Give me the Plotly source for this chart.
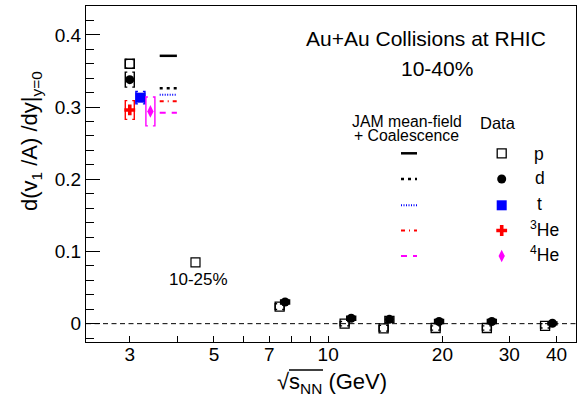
import math
import plotly.graph_objects as go

# ---------------- data ----------------
p_energy = [3.0, 7.45, 11.05, 14.0, 19.2, 26.2, 37.3]
p_slope = [0.360, 0.0236, 0.0, -0.0064, -0.006, -0.006, -0.003]
p_sys = [0.006, 0.004, 0.003, 0.004, 0.003, 0.003, 0.003]

d_energy = [3.0, 7.7, 11.5, 14.5, 19.6, 27.0, 39.0]
d_slope = [0.338, 0.030, 0.0075, 0.006, 0.003, 0.003, 0.0005]
d_sys = [0.0104, 0.003, 0.003, 0.004, 0.003, 0.003, 0.002]

t_energy = [3.2]
t_slope = [0.313]
t_sys = [0.0085]

he3_energy = [3.0]
he3_slope = [0.296]
he3_sys = [0.013]

he4_energy = [3.4]
he4_slope = [0.294]
he4_sys = [0.020]

p1025_energy = [4.47]
p1025_slope = [0.085]

jam_energy = 3.79
jam_p = 0.371
jam_d = 0.326
jam_t = 0.317
jam_he3 = 0.308
jam_he4 = 0.292

x_ticks = [3, 5, 7, 10, 20, 30, 40]
x_minor = [4, 6, 8, 9]

# ---------------- layout geometry ----------------
W, H = 583, 397
ML, MR, MT, MB = 86, 7, 6, 55
XR = [math.log10(2.3), math.log10(45.0)]
YR = [-0.0254, 0.44]
plot_w = W - ML - MR
plot_h = H - MT - MB
dec_per_px = (XR[1] - XR[0]) / plot_w

FONT = "Liberation Sans, Arial, Helvetica, sans-serif"


def brackets(xs, ys, es, half_px=4.5, tick_px=2.0):
    bx, by = [], []
    f = 10 ** (half_px * dec_per_px)
    t = 10 ** (tick_px * dec_per_px)
    for x, y, e in zip(xs, ys, es):
        xl = x / f
        xr = x * f
        bx += [xl * t, xl, xl, xl * t, None, xr / t, xr, xr, xr / t, None]
        by += [y + e, y + e, y - e, y - e, None, y + e, y + e, y - e, y - e, None]
    return bx, by


def px_x(px):
    return (px - ML) / plot_w


def px_y(py):
    return (H - MB - py) / plot_h


fig = go.Figure()

# JAM model segments
seg = 10 ** (8.6 * dec_per_px)
jam_styles = [
    (jam_p, "black", "solid", 2.5),
    (jam_d, "black", "3px,4px", 2.5),
    (jam_t, "#0000ff", "1px,1.5px", 2),
    (jam_he3, "#ff0000", "4px,4px,1px,4px", 2),
    (jam_he4, "#ff00ff", "6px,6px", 2),
]
for val, col, dash, w in jam_styles:
    fig.add_trace(go.Scatter(x=[jam_energy / seg, jam_energy * seg], y=[val, val],
                             mode="lines", line=dict(color=col, dash=dash, width=w),
                             showlegend=False, hoverinfo="skip"))

# data series with systematic brackets
series = [
    (p_energy, p_slope, p_sys, "black", dict(symbol="square-open", size=9,
                                              color="black", line=dict(width=1.3, color="black"))),
    (d_energy, d_slope, d_sys, "black", dict(symbol="circle", size=9, color="black")),
    (t_energy, t_slope, t_sys, "#0000ff", dict(symbol="square", size=10, color="#0000ff")),
    (he3_energy, he3_slope, he3_sys, "#ff0000", dict(symbol="cross", size=9, color="#ff0000")),
    (he4_energy, he4_slope, he4_sys, "#ff00ff", dict(symbol="diamond-tall", size=9, color="#ff00ff")),
]
for xs, ys, es, col, mk in series:
    bx, by = brackets(xs, ys, es)
    fig.add_trace(go.Scatter(x=bx, y=by, mode="lines", line=dict(color=col, width=1.4),
                             showlegend=False, hoverinfo="skip"))
    fig.add_trace(go.Scatter(x=xs, y=ys, mode="markers", marker=mk, showlegend=False))

fig.add_trace(go.Scatter(x=p1025_energy, y=p1025_slope, mode="markers",
                         marker=dict(symbol="square-open", size=9, color="black",
                                     line=dict(width=1.2, color="black")),
                         showlegend=False))

# ---------------- legend (pixel overlay axes) ----------------
leg_rows = [153.3, 179.0, 205.3, 230.5, 256.0]
for (val, col, dash, w), yy in zip(jam_styles, leg_rows):
    fig.add_trace(go.Scatter(x=[401, 417], y=[yy, yy], xaxis="x2", yaxis="y2", mode="lines",
                             line=dict(color=col, dash=dash, width=w), showlegend=False,
                             hoverinfo="skip"))
for (xs, ys, es, col, mk), yy in zip(series, leg_rows):
    fig.add_trace(go.Scatter(x=[501.7], y=[yy], xaxis="x2", yaxis="y2", mode="markers",
                             marker=dict(mk), showlegend=False, hoverinfo="skip"))

ann = []


def txt(text, x, y, size, xanchor="center"):
    ann.append(dict(text=text, x=px_x(x), y=px_y(y), xref="paper", yref="paper",
                    showarrow=False, xanchor=xanchor, yanchor="middle",
                    font=dict(family=FONT, size=size, color="black")))


txt("Au+Au Collisions at RHIC", 425.5, 39, 21)
txt("10-40%", 436.7, 68.3, 21)
txt("JAM mean-field", 406.7, 121.8, 15.8)
txt("+ Coalescence", 406.0, 135.0, 15.8)
txt("Data", 498.0, 122.5, 16.5)
txt("p", 539, 153.7, 17.5)
txt("d", 540, 178.0, 17.5)
txt("t", 539, 204.0, 17.5)
txt("<sup>3</sup>He", 527.5, 228.5, 17.5, xanchor="left")
txt("<sup>4</sup>He", 527.5, 254.3, 17.5, xanchor="left")

ann.append(dict(text="10-25%", x=math.log10(4.54), y=0.0605, xref="x", yref="y",
                showarrow=False, font=dict(family=FONT, size=17, color="black")))

# axis titles
txt("√s<sub>NN</sub> (GeV)", 331.5, 383, 22)
ann.append(dict(text="d(v<sub>1</sub> /A) /dy|<sub>y=0</sub>", x=px_x(31),
                y=px_y(141), xref="paper", yref="paper", textangle=-90,
                showarrow=False, font=dict(family=FONT, size=22, color="black"),
                xanchor="center", yanchor="middle"))

shapes = [
    dict(type="line", xref="paper", yref="y", x0=0, x1=1, y0=0, y1=0,
         line=dict(color="black", width=1, dash="5px,3.5px"), layer="below"),
    dict(type="line", xref="x", yref="paper", x0=1.0, x1=1.0, y0=0, y1=11 / plot_h,
         line=dict(color="black", width=1)),
    # overline of the square-root sign in the x title
    dict(type="line", xref="paper", yref="paper", x0=px_x(289), x1=px_x(323),
         y0=px_y(370), y1=px_y(370), line=dict(color="black", width=1.3)),
]

fig.update_layout(
    width=W, height=H, margin=dict(l=ML, r=MR, t=MT, b=MB, autoexpand=False),
    paper_bgcolor="white", plot_bgcolor="white",
    font=dict(family=FONT, color="black"),
    annotations=ann, shapes=shapes, showlegend=False,
    xaxis=dict(type="log", range=XR, tickvals=x_ticks, ticktext=[str(v) for v in x_ticks],
               ticks="inside", ticklen=6, tickcolor="black", showgrid=False, zeroline=False,
               showline=True, linecolor="black", linewidth=1, mirror=True, automargin=False,
               ticklabelstandoff=-5,
               tickfont=dict(family=FONT, size=19, color="black"),
               minor=dict(tickvals=x_minor, ticks="inside", ticklen=6, tickcolor="black",
                          showgrid=False)),
    yaxis=dict(range=YR, tick0=0, dtick=0.1, ticks="inside", ticklen=14, tickcolor="black",
               showgrid=False, zeroline=False, showline=True, linecolor="black", linewidth=1,
               mirror=True, automargin=False, tickfont=dict(family=FONT, size=19, color="black"),
               minor=dict(dtick=0.02, ticks="inside", ticklen=8, tickcolor="black",
                          showgrid=False)),
    xaxis2=dict(overlaying="x", range=[ML, W - MR], visible=False, anchor="y2"),
    yaxis2=dict(overlaying="y", range=[H - MB, MT], visible=False, anchor="x2"),
)

fig.write_html("out.html", config={"displayModeBar": False},
               post_script="document.body.style.margin='0';document.body.style.padding='0';")
